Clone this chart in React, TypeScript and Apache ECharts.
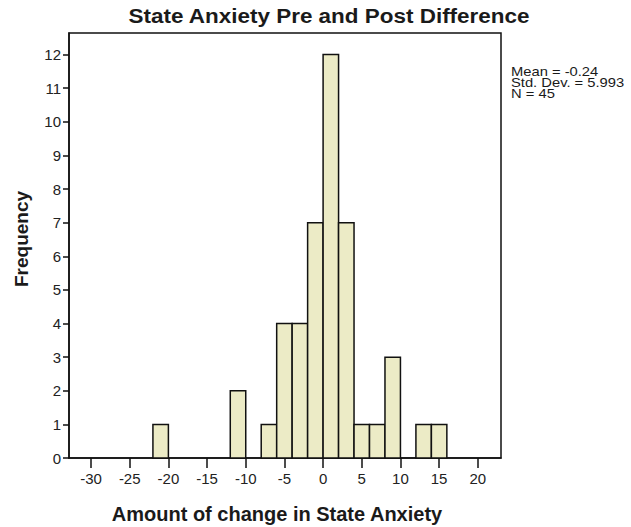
import React, { useEffect, useRef } from "react";
import * as echarts from "echarts";

const binStarts = [-22, -12, -8, -6, -4, -2, 0, 2, 4, 6, 8, 12, 14];
const binEnds = [-20, -10, -6, -4, -2, 0, 2, 4, 6, 8, 10, 14, 16];
const counts = [1, 2, 1, 4, 4, 7, 12, 7, 1, 1, 3, 1, 1];
const xTicks = [-30, -25, -20, -15, -10, -5, 0, 5, 10, 15, 20];
const yTicks = [0, 1, 2, 3, 4, 5, 6, 7, 8, 9, 10, 11, 12];
const statsLines = ["Mean = -0.24", "Std. Dev. = 5.993", "N = 45"];
const titleText = "State Anxiety Pre and Post Difference";
const xName = "Amount of change in State Anxiety";
const yName = "Frequency";

const FONT = "'Liberation Sans', Arial, Helvetica, sans-serif";

export default function App() {
  const ref = useRef<HTMLDivElement>(null);
  useEffect(() => {
    document.body.style.margin = "0";
    if (!ref.current) return;
    const chart = echarts.init(ref.current, null, { renderer: "svg" });
    const data = binStarts.map((s, i) => [s, binEnds[i], counts[i]]);
    const labelStyle = {
      fontSize: 15,
      fontFamily: FONT,
      color: "#222",
    };
    chart.setOption({
      animation: false,
      backgroundColor: "#ffffff",
      textStyle: { fontFamily: FONT, fontSize: 15 },
      grid: {
        left: 69,
        right: 130,
        top: 33,
        bottom: 69,
        show: true,
        borderColor: "#111",
        borderWidth: 1.5,
        backgroundColor: "transparent",
      },
      xAxis: {
        type: "value",
        min: -32.85,
        max: 23,
        axisLine: { show: true, onZero: false, lineStyle: { color: "#111", width: 1.5 } },
        axisTick: {
          show: true,
          inside: false,
          length: 10,
          customValues: xTicks,
          lineStyle: { color: "#111", width: 1.5 },
        },
        axisLabel: {
          customValues: xTicks,
          margin: 13,
          ...labelStyle,
        },
        splitLine: { show: false },
      },
      yAxis: {
        type: "value",
        min: 0,
        max: 12.64,
        axisLine: { show: true, onZero: false, lineStyle: { color: "#111", width: 1.5 } },
        axisTick: {
          show: true,
          inside: false,
          length: 6,
          customValues: yTicks,
          lineStyle: { color: "#111", width: 1.5 },
        },
        axisLabel: {
          customValues: yTicks,
          margin: 8,
          ...labelStyle,
        },
        splitLine: { show: false },
      },
      series: [
        {
          type: "custom",
          data,
          encode: { x: [0, 1], y: 2 },
          renderItem: (params: any, api: any) => {
            const x0 = api.value(0);
            const x1 = api.value(1);
            const c = api.value(2);
            const p0 = api.coord([x0, c]);
            const p1 = api.coord([x1, 0]);
            return {
              type: "rect",
              shape: {
                x: p0[0],
                y: p0[1],
                width: p1[0] - p0[0],
                height: p1[1] - p0[1],
              },
              style: { fill: "#ecebc6", stroke: "#111", lineWidth: 1.5 },
            };
          },
        },
      ],
      graphic: [
        {
          type: "text",
          x: 329,
          y: 16,
          scaleX: 1.07,
          style: {
            text: titleText,
            fontSize: 21,
            fontWeight: "bold",
            fontFamily: FONT,
            fill: "#1a1a1a",
            textAlign: "center",
            textVerticalAlign: "middle",
          },
        },
        {
          type: "text",
          x: 277,
          y: 514,
          style: {
            text: xName,
            fontSize: 20,
            fontWeight: "bold",
            fontFamily: FONT,
            fill: "#1a1a1a",
            textAlign: "center",
            textVerticalAlign: "middle",
          },
        },
        {
          type: "text",
          x: 21,
          y: 239,
          rotation: Math.PI / 2,
          style: {
            text: yName,
            fontSize: 19,
            fontWeight: "bold",
            fontFamily: FONT,
            fill: "#1a1a1a",
            textAlign: "center",
            textVerticalAlign: "middle",
          },
        },
        ...statsLines.map((t, i) => ({
          type: "text",
          x: 511,
          y: 71.5 + i * 11,
          scaleX: 1.18,
          style: {
            text: t,
            fontSize: 12.5,
            fontFamily: FONT,
            fill: "#1a1a1a",
            textAlign: "left",
            textVerticalAlign: "middle",
          },
        })),
      ],
    });
    return () => chart.dispose();
  }, []);
  return <div ref={ref} style={{ width: 631, height: 527 }} />;
}
